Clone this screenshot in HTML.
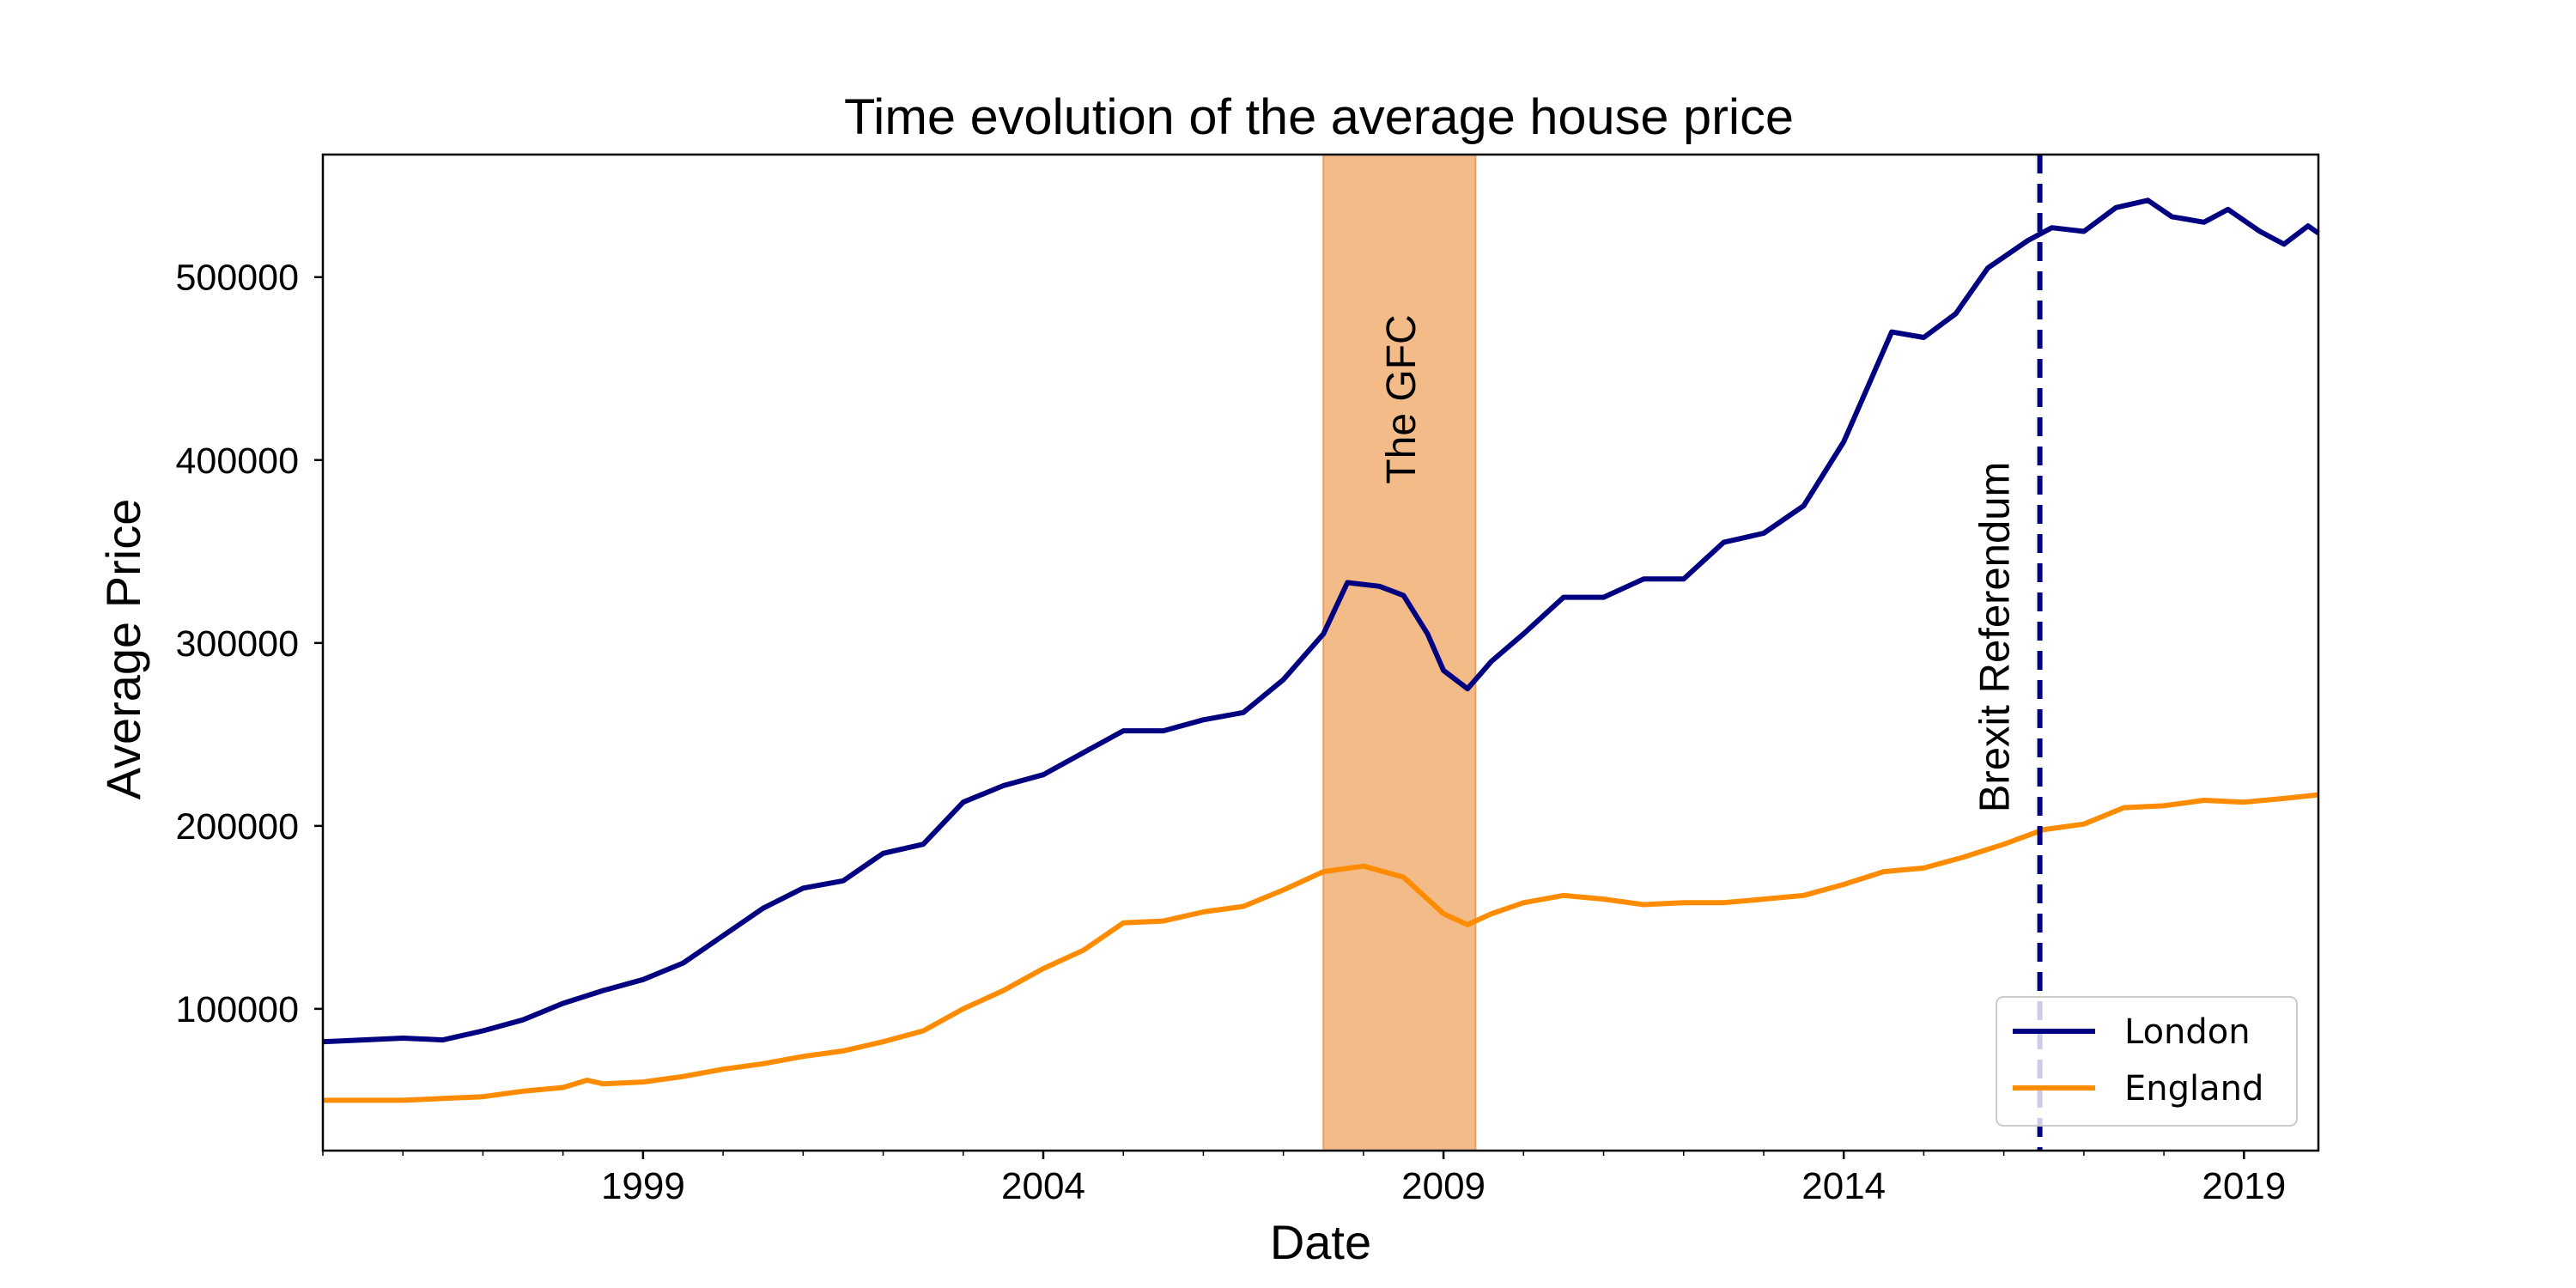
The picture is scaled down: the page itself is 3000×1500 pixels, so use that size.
<!DOCTYPE html>
<html><head><meta charset="utf-8"><style>
html,body{margin:0;padding:0;background:#fff}
svg{display:block;font-family:"Liberation Sans",sans-serif}
</style></head><body>
<svg id="chart" width="3000" height="1500" viewBox="0 0 3000 1500" xmlns="http://www.w3.org/2000/svg">
<rect width="3000" height="1500" fill="#fff"/>
<g id="plot"></g>
<text x="1536" y="156" font-size="58" text-anchor="middle" textLength="1106" lengthAdjust="spacingAndGlyphs">Time evolution of the average house price</text>
<text x="1538" y="1466" font-size="56" text-anchor="middle">Date</text>
<text transform="translate(163,756) rotate(-90)" font-size="56" text-anchor="middle">Average Price</text>
</svg>
<script>
const dates=[1995.0,1995.5,1996.0,1996.5,1997.0,1997.5,1998.0,1998.5,1999.0,1999.5,2000.0,2000.5,2001.0,2001.5,2002.0,2002.5,2003.0,2003.5,2004.0,2004.5,2005.0,2005.5,2006.0,2006.5,2007.0,2007.5,2007.8,2008.2,2008.5,2008.8,2009.0,2009.3,2009.6,2010.0,2010.5,2011.0,2011.5,2012.0,2012.5,2013.0,2013.5,2014.0,2014.3,2014.6,2015.0,2015.4,2015.8,2016.3,2016.6,2017.0,2017.4,2017.8,2018.1,2018.5,2018.8,2019.2,2019.5,2019.8,2019.93];
const london=[82000,83000,84000,83000,88000,94000,103000,110000,116000,125000,140000,155000,166000,170000,185000,190000,213000,222000,228000,240000,252000,252000,258000,262000,280000,305000,333000,331000,326000,305000,285000,275000,290000,305000,325000,325000,335000,335000,355000,360000,375000,410000,440000,470000,467000,480000,505000,520000,527000,525000,538000,542000,533000,530000,537000,525000,518000,528000,524000];
const englandDates=[1995.0,1996.0,1996.5,1997.0,1997.5,1998.0,1998.3,1998.5,1999.0,1999.5,2000.0,2000.5,2001.0,2001.5,2002.0,2002.5,2003.0,2003.5,2004.0,2004.5,2005.0,2005.5,2006.0,2006.5,2007.0,2007.5,2008.0,2008.5,2009.0,2009.3,2009.6,2010.0,2010.5,2011.0,2011.5,2012.0,2012.5,2013.0,2013.5,2014.0,2014.5,2015.0,2015.5,2016.0,2016.5,2017.0,2017.5,2018.0,2018.5,2019.0,2019.5,2019.93];
const england=[50000,50000,51000,52000,55000,57000,61000,59000,60000,63000,67000,70000,74000,77000,82000,88000,100000,110000,122000,132000,147000,148000,153000,156000,165000,175000,178000,172000,152000,146000,152000,158000,162000,160000,157000,158000,158000,160000,162000,168000,175000,177000,183000,190000,198000,201000,210000,211000,214000,213000,215000,217000];
const yTicks=[100000,200000,300000,400000,500000];
const xTicks=[1999,2004,2009,2014,2019];
const gfcSpan=[2007.5,2009.4];
const brexitDate=2016.45;

const L=376,R=2700,T=180,B=1340;
const X0=1995.0,X1=2019.93,Y0=22500,Y1=567000;
const sx=v=>L+(v-X0)/(X1-X0)*(R-L);
const sy=v=>B-(v-Y0)/(Y1-Y0)*(B-T);
const NS="http://www.w3.org/2000/svg";
const g=document.getElementById('plot');
function mk(tag,attrs,parent){const e=document.createElementNS(NS,tag);for(const k in attrs)e.setAttribute(k,attrs[k]);(parent||g).appendChild(e);return e;}

let e=mk('rect',{x:sx(gfcSpan[0]),y:T,width:sx(gfcSpan[1])-sx(gfcSpan[0]),height:B-T,fill:'#f2bb88',stroke:'#eaa060','stroke-width':2});


const gx=(sx(gfcSpan[0])+sx(gfcSpan[1]))/2+18;
e=mk('text',{transform:`translate(${gx},465) rotate(-90)`,'font-size':48,'text-anchor':'middle'});e.textContent='The GFC';



function line(xs,ys,color,name){
  const d=xs.map((x,i)=>(i?'L':'M')+sx(x).toFixed(1)+','+sy(ys[i]).toFixed(1)).join('');
  const p=mk('path',{d:d,fill:'none',stroke:color,'stroke-width':6,'stroke-linejoin':'round'});
  
  
}
line(dates,london,'#000080','london-line');
line(englandDates,england,'#ff8c00','england-line');

e=mk('line',{x1:sx(brexitDate),x2:sx(brexitDate),y1:T,y2:B,stroke:'#000080','stroke-width':6,'stroke-dasharray':'22,12'});


e=mk('text',{transform:`translate(${sx(brexitDate)-36},742) rotate(-90)`,'font-size':49,'text-anchor':'middle'});e.textContent='Brexit Referendum';



e=mk('rect',{x:L,y:T,width:R-L,height:B-T,fill:'none',stroke:'#000','stroke-width':2.5});



yTicks.forEach(v=>{
  const y=sy(v);
  let t=mk('line',{x1:L-10,x2:L,y1:y,y2:y,stroke:'#000','stroke-width':2.5});
  
  
  t=mk('text',{x:L-28,y:y+15,'font-size':43,'text-anchor':'end'});t.textContent=v;
  
  
});
for(let yr=1995;yr<=2019;yr++){
  const x=sx(yr);const major=xTicks.includes(yr);
  let t=mk('line',{x1:x,x2:x,y1:B,y2:B+(major?10:6),stroke:'#000','stroke-width':major?2.5:1.5});
  
  
}
xTicks.forEach(v=>{
  const t=mk('text',{x:sx(v),y:B+56,'font-size':44,'text-anchor':'middle'});t.textContent=v;
  
  
});

const lg=mk('g',{});


e=mk('rect',{x:2325,y:1161,width:350,height:150,rx:8,fill:'rgba(255,255,255,0.8)',stroke:'#ccc','stroke-width':2},lg);


[['London','#000080',1201],['England','#ff8c00',1267]].forEach(([n,c,y])=>{
  let t=mk('line',{x1:2344,x2:2440,y1:y,y2:y,stroke:c,'stroke-width':6},lg);
  
  
  t=mk('text',{x:2474,y:y+14,'font-size':40,'font-family':'DejaVu Sans, sans-serif'},lg);t.textContent=n;
  
  
});
</script>
</body></html>
